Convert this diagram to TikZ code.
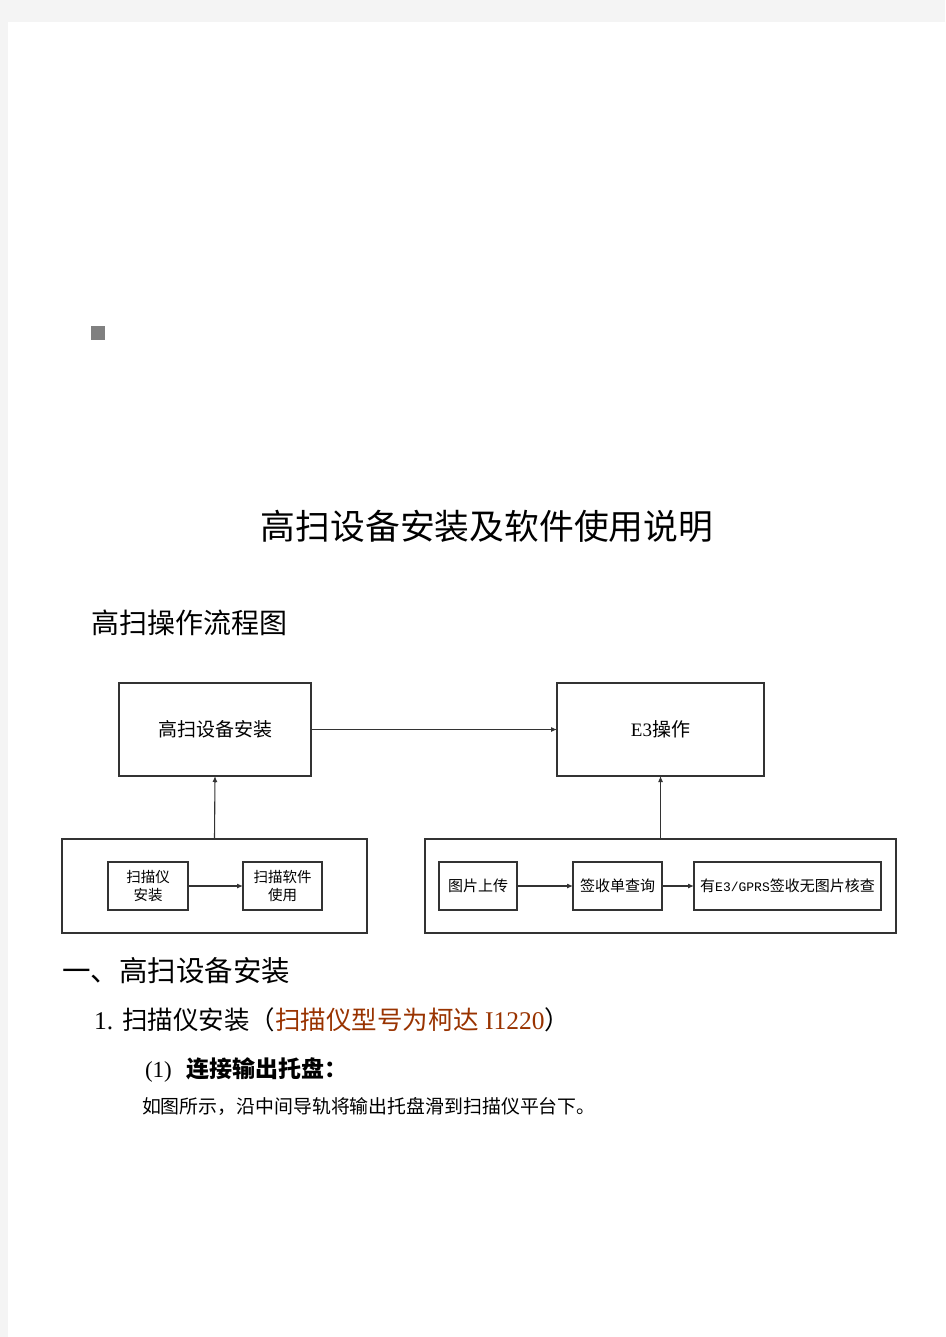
\documentclass[tikz,border=0pt]{standalone}
\usepackage{fontspec}
\setmainfont{Liberation Serif}
\newfontfamily\cjk{Noto Sans CJK SC}
\newfontfamily\monof{Liberation Mono}
\usetikzlibrary{arrows.meta}
\definecolor{bgray}{HTML}{F4F4F4}
\definecolor{brn}{HTML}{993300}
\definecolor{ln}{HTML}{333333}
\definecolor{sq}{HTML}{808080}
\begin{document}
\begin{tikzpicture}[x=1pt,y=-1pt,
  bx/.style={draw=ln,line width=1.1pt,inner sep=0pt,outer sep=0pt,align=center},
  arr/.style={draw=ln,line width=1.1pt,-{Latex[length=6pt,width=5pt]}},
  txt/.style={inner sep=0pt,outer sep=0pt}]
\useasboundingbox (0,0) rectangle (945,1337);
\fill[bgray] (0,0) rectangle (945,1337);
\fill[white] (8,22) rectangle (945,1337);
\fill[sq] (91,326) rectangle (105,340);

\node[txt,font=\cjk\fontsize{34.8}{40}\selectfont] (title) at (487,526) {高扫设备安装及软件使用说明};
\node[txt,anchor=west,font=\cjk\fontsize{28}{32}\selectfont] (sub) at (91,623) {高扫操作流程图};

% top boxes
\node[bx,minimum width=192pt,minimum height=93pt,font=\cjk\fontsize{19}{23}\selectfont] (A) at (215,729.5) {高扫设备安装};
\node[bx,minimum width=207pt,minimum height=93pt,font=\fontsize{19}{23}\selectfont] (B) at (660.5,729.5) {E3{\cjk 操作}};
\draw[arr] (A.east) -- (B.west);

% outer boxes
\node[bx,minimum width=305pt,minimum height=94pt] (OL) at (214.5,886) {};
\node[bx,minimum width=471pt,minimum height=94pt] (OR) at (660.5,886) {};
\draw[arr] (OL.north) -- (A.south);
\draw[arr] (OR.north) -- (B.south);

% inner boxes left
\node[bx,minimum width=80pt,minimum height=48pt,font=\cjk\fontsize{14.5}{18}\selectfont] (L1) at (148,886) {扫描仪\\安装};
\node[bx,minimum width=79pt,minimum height=48pt,font=\cjk\fontsize{14.5}{18}\selectfont] (L2) at (282.5,886) {扫描软件\\使用};
\draw[arr] (L1.east) -- (L2.west);

% inner boxes right
\node[bx,minimum width=78pt,minimum height=48pt,font=\cjk\fontsize{15}{18}\selectfont] (R1) at (478,886) {图片上传};
\node[bx,minimum width=89pt,minimum height=48pt,font=\cjk\fontsize{15}{18}\selectfont] (R2) at (617.5,886) {签收单查询};
\node[bx,minimum width=187pt,minimum height=48pt,font=\cjk\fontsize{15}{18}\selectfont] (R3) at (787.5,886) {有{\monof\fontsize{13}{18}\selectfont E3/GPRS}签收无图片核查};
\draw[arr] (R1.east) -- (R2.west);
\draw[arr] (R2.east) -- (R3.west);

% text below
\node[txt,anchor=west,font=\cjk\fontsize{28.5}{32}\selectfont] (h1) at (62,971) {一、高扫设备安装};
\node[txt,anchor=west,font=\fontsize{25.5}{30}\selectfont] (h2) at (94,1020) {1.\hspace{9pt}{\cjk 扫描仪安装（\textcolor{brn}{扫描仪型号为柯达}}\hspace{6pt}\textcolor{brn}{I1220}{\cjk ）}};
\node[txt,anchor=west,font=\fontsize{23}{28}\selectfont] (h3) at (145,1070) {(1)\hspace{15pt}{\cjk\bfseries 连接输出托盘：}};
\node[txt,anchor=west,font=\cjk\fontsize{18.9}{22}\selectfont] (p1) at (142,1106) {如图所示，沿中间导轨将输出托盘滑到扫描仪平台下。};
\end{tikzpicture}
\end{document}
